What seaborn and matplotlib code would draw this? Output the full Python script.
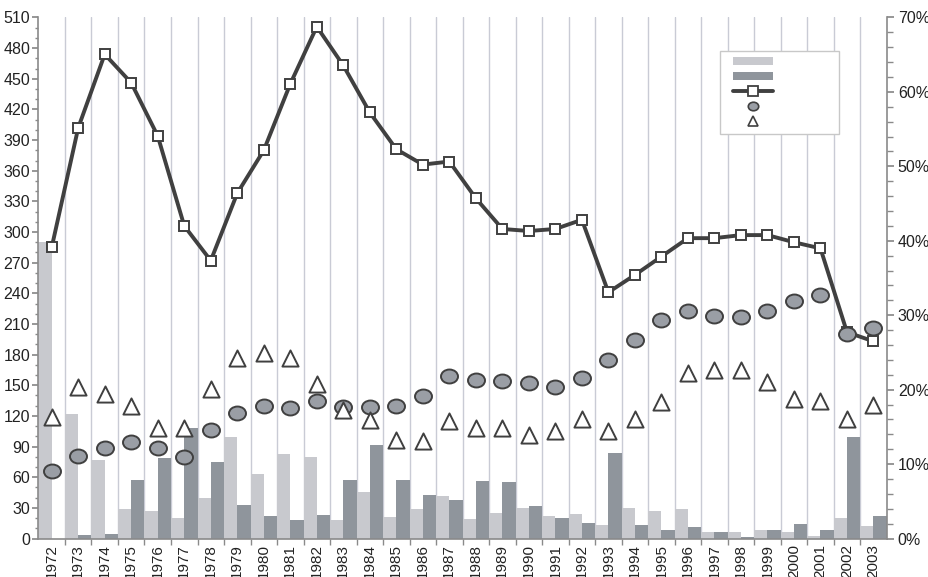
import matplotlib
matplotlib.use("Agg")
import matplotlib.pyplot as plt
from matplotlib import font_manager
import seaborn as sns
import numpy as np
import pandas as pd
from matplotlib.ticker import MultipleLocator, FuncFormatter, FixedLocator
from matplotlib.lines import Line2D
from matplotlib.patches import Patch, Rectangle
from matplotlib.path import Path

# Data
years = [str(y) for y in range(1972, 2004)]
light_bars = [290, 122, 77, 29, 27, 20, 40, 99, 63, 83, 80,
              18, 46, 21, 29, 42, 19, 25, 30, 22, 24, 13,
              30, 27, 29, 6, 6, 8, 6, 2, 20, 12]
dark_bars = [0, 3, 4, 57, 79, 108, 75, 33, 22, 18, 23,
             57, 92, 57, 43, 38, 56, 55, 32, 20, 15, 84,
             13, 8, 11, 6, 1.5, 8, 14, 8, 99, 22]
line_vals = [285, 402, 474, 446, 394, 306, 272, 338, 380, 445, 501,
             463, 417, 381, 366, 369, 333, 303, 301, 303, 312, 241,
             258, 276, 294, 294, 297, 297, 290, 284, 202, 193]
circle_pct = [9.1, 11.1, 12.1, 12.9, 12.1, 11.0, 14.6, 16.8, 17.8, 17.5, 18.5,
              17.7, 17.7, 17.8, 19.1, 21.9, 21.3, 21.1, 20.9, 20.4, 21.5, 24.0,
              26.7, 29.3, 30.6, 29.9, 29.8, 30.5, 31.9, 32.7, 27.5, 28.3]
triangle_pct = [16.3, 20.3, 19.4, 17.8, 14.8, 14.8, 20.1, 24.3, 24.9, 24.2, 20.8,
                17.3, 15.9, 13.3, 13.1, 15.8, 14.9, 14.8, 13.9, 14.4, 16.0, 14.4,
                16.1, 18.3, 22.3, 22.7, 22.7, 21.0, 18.8, 18.5, 16.1, 17.9]

light_col = "#c8c9ce"
dark_col = "#8f959c"
ink = "#404040"
axis_col = "#8a8a8a"
grid_col = "#c9cbd5"

sns.set_theme(style="white")

# narrow font if there is one, otherwise an Arial-like font
try:
    font_manager.findfont("Liberation Sans Narrow", fallback_to_default=False)
    plt.rcParams["font.family"] = ["Liberation Sans Narrow", "DejaVu Sans"]
    xsize, ysize = 12, 12
except ValueError:
    plt.rcParams["font.family"] = ["Liberation Sans", "DejaVu Sans"]
    xsize, ysize = 11, 11.5

n = len(years)
df = pd.DataFrame({
    "year": years * 2,
    "value": light_bars + dark_bars,
    "series": ["light"] * n + ["dark"] * n,
})

fig = plt.figure(figsize=(9.29, 5.77), dpi=100)
ax = fig.add_axes([0.0414, 0.0667, 0.9131, 0.903])

sns.barplot(data=df, x="year", y="value", hue="series", palette=[light_col, dark_col],
            width=1.0, dodge=True, saturation=1, linewidth=0, legend=False, ax=ax)

x = np.arange(n)
sns.lineplot(x=x, y=line_vals, ax=ax, color=ink, lw=2.8, marker="s", markersize=7.5,
             markerfacecolor="white", markeredgecolor=ink, markeredgewidth=1.4, zorder=4)

ax.set_xlim(-0.5, n - 0.5)
ax.set_ylim(0, 510)
ax.set_xlabel("")
ax.set_ylabel("")
ax.yaxis.set_major_locator(MultipleLocator(30))
ax.yaxis.set_minor_locator(MultipleLocator(10))
ax.xaxis.set_minor_locator(FixedLocator(np.arange(0.5, n - 1, 1.0)))
ax.tick_params(axis="x", which="major", length=0, rotation=90, labelsize=xsize, colors="#222222", pad=4)
ax.tick_params(axis="x", which="minor", length=4, color=axis_col, direction="out", bottom=True)
ax.tick_params(axis="y", which="both", left=True, direction="out", color=axis_col, labelsize=ysize,
               labelcolor="#222222", pad=2)
ax.tick_params(axis="y", which="major", length=4)
ax.tick_params(axis="y", which="minor", length=2.5)
ax.grid(False)
ax.xaxis.grid(True, which="minor", color=grid_col, lw=1)
ax.set_axisbelow(True)
for s in ["top", "right"]:
    ax.spines[s].set_visible(False)
for s in ["left", "bottom"]:
    ax.spines[s].set_color(axis_col)
    ax.spines[s].set_linewidth(1.2)

# right axis: percentages
ax2 = ax.twinx()
ellipse = Path.unit_circle()
ellipse = Path(ellipse.vertices * np.array([1.0, 0.82]), ellipse.codes)
sns.scatterplot(x=x, y=np.array(circle_pct) / 100, ax=ax2, marker=ellipse, s=150,
                color="#9a9ea5", edgecolor=ink, linewidth=1.4, zorder=5, legend=False)
sns.scatterplot(x=x, y=np.array(triangle_pct) / 100, ax=ax2, marker="^", s=135,
                color="white", edgecolor=ink, linewidth=1.4, zorder=5, legend=False)
ax2.set_ylim(0, 0.7)
ax2.set_xlim(-0.5, n - 0.5)
ax2.set_ylabel("")
ax2.yaxis.set_major_locator(MultipleLocator(0.1))
ax2.yaxis.set_minor_locator(MultipleLocator(0.02))
ax2.yaxis.set_major_formatter(FuncFormatter(lambda v, p: f"{v * 100:.0f}%"))
ax2.tick_params(axis="y", which="both", right=True, direction="out", color=axis_col, labelsize=ysize,
                labelcolor="#222222", pad=3)
ax2.tick_params(axis="y", which="major", length=5)
ax2.tick_params(axis="y", which="minor", length=4)
ax2.grid(False)
for s in ["top", "left", "bottom"]:
    ax2.spines[s].set_visible(False)
ax2.spines["right"].set_color(axis_col)
ax2.spines["right"].set_linewidth(1.2)

# legend (no labels) with a separate frame box
ax2.add_patch(Rectangle((0.804, 0.776), 0.140, 0.160, transform=ax2.transAxes,
                        facecolor="white", edgecolor="#c8c8c8", lw=1, zorder=6))
handles = [
    Patch(facecolor=light_col, edgecolor="none"),
    Patch(facecolor=dark_col, edgecolor="none"),
    Line2D([], [], color=ink, lw=2.8, marker="s", markersize=7, markerfacecolor="white",
           markeredgecolor=ink, markeredgewidth=1.3),
    Line2D([], [], ls="none", marker=ellipse, markersize=7.5, markerfacecolor="#9a9ea5",
           markeredgecolor=ink, markeredgewidth=1.2),
    Line2D([], [], ls="none", marker="^", markersize=6.5, markerfacecolor="white",
           markeredgecolor=ink, markeredgewidth=1.2),
]
leg = ax2.legend(handles, [""] * 5, loc="upper left", bbox_to_anchor=(0.819, 0.925),
                 borderaxespad=0, borderpad=0, fontsize=8, handlelength=3.6, handleheight=0.7,
                 labelspacing=0.46, frameon=False)
leg.set_zorder(7)

fig.savefig("out.png", dpi=100)
